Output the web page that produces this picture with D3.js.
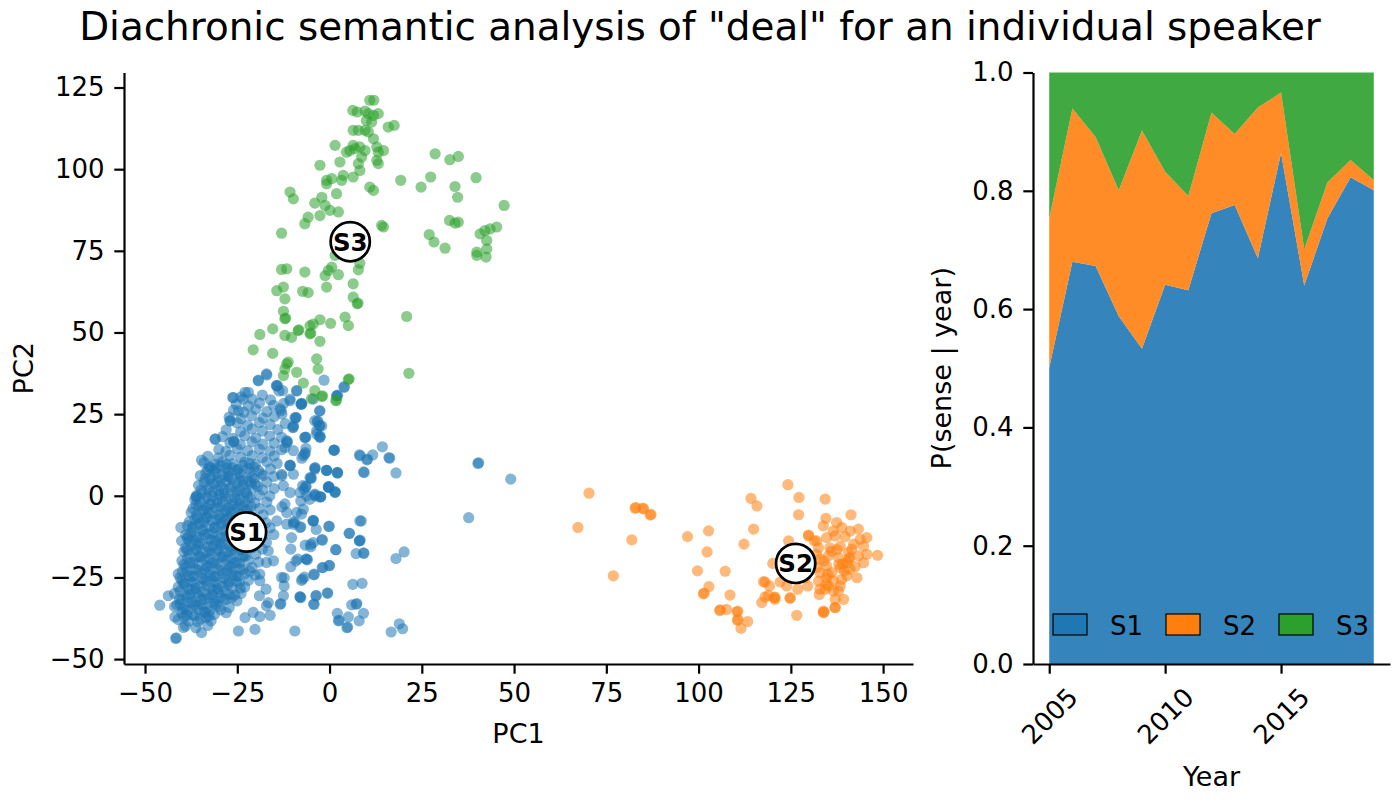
<!DOCTYPE html>
<html><head><meta charset="utf-8">
<script src="https://cdn.jsdelivr.net/npm/d3@7"></script>
<style>
html,body{margin:0;padding:0;background:#fff;}
svg{display:block;font-family:"DejaVu Sans",sans-serif;}
</style></head>
<body>
<svg id="chart" width="1400" height="800"></svg>
<script>
// ---------------- DATA ----------------
const senses = ["S1","S2","S3"];
const senseColors = ["#1f77b4","#ff7f0e","#2ca02c"];
const xTicks = [-50,-25,0,25,50,75,100,125,150];
const yTicks = [-50,-25,0,25,50,75,100,125];
const years = [2005,2006,2007,2008,2009,2010,2011,2012,2013,2014,2015,2016,2017,2018,2019];
const yearTicks = [2005,2010,2015];
const shareTicks = [0,0.2,0.4,0.6,0.8,1.0];
const s1Share = [0.501,0.680,0.673,0.588,0.533,0.641,0.632,0.762,0.776,0.686,0.864,0.640,0.753,0.823,0.801];
const s2Share = [0.252,0.259,0.218,0.213,0.369,0.191,0.159,0.170,0.120,0.255,0.102,0.061,0.061,0.029,0.017];
const s3Share = [0.247,0.061,0.109,0.199,0.098,0.168,0.209,0.068,0.104,0.059,0.034,0.299,0.186,0.148,0.182];
const centroids = [["S1",-22.5,-11.1],["S2",126.3,-20.7],["S3",5.6,77.8]];

const s1Points = [
[40.2,9.9],[40.4,10.1],[49.1,5.1],[37.7,-6.7],[8.1,12.5],[8.3,12.3],[10.1,11.0],[10.3,11.2],[11.7,12.5],[14.3,15.0],[16.1,11.7],[16.3,11.5],[9.2,7.3],[9.4,7.1],[18.0,7.0],[1.2,14.0],[-0.8,7.8],[2.2,7.0],[-0.3,2.5],[-0.1,2.7],[1.5,1.2],[8.6,-7.7],[5.4,-11.5],[8.1,-13.8],[8.3,-13.6],[7.2,-17.7],[9.2,-17.5],[1.7,-16.5],[-0.1,-9.3],[18.0,-19.2],[20.2,-17.2],[6.3,-27.1],[8.8,-26.8],[-0.5,-29.8],[7.2,-33.2],[7.4,-33.0],[6.0,-33.4],[9.2,-36.0],[2.1,-36.0],[5.1,-37.1],[8.0,-38.3],[2.4,-38.3],[2.6,-38.1],[4.7,-40.4],[4.9,-40.2],[18.9,-39.2],[19.8,-40.7],[16.7,-41.7],[-9.4,-41.4],[-4.3,-33.2],[-8.0,-31.0],[-7.8,-31.2],[-3.6,-30.5],[-7.6,-25.9],[-6.8,-24.9],[-4.2,-24.2],[-12.3,-25.1],[-1.8,-22.0],[0.0,-21.3],[-10.5,-21.7],[-9.1,-20.0],[-6.2,-19.4],[-6.0,-19.6],[-2.0,-13.4],[-5.1,-14.9],[-6.6,-15.1],[-4.4,-7.5],[-3.6,-10.3],[-9.8,-8.7],[-8.0,-9.7],[-7.8,-9.5],[-11.6,-5.1],[-12.9,-3.4],[-7.1,-4.1],[-8.9,-5.1],[-4.5,-7.7],[-2.4,-0.3],[-3.9,0.2],[-5.4,-1.1],[-7.8,-1.6],[-6.4,2.7],[-5.0,5.3],[-6.9,2.0],[-4.0,8.1],[-7.5,11.5],[-6.6,13.2],[-2.6,18.0],[-3.5,18.9],[-6.4,18.0],[-2.6,21.4],[-3.3,22.7],[-2.7,26.0],[-7.1,12.3],[-9.1,24.0],[-9.8,21.4],[-11.6,16.3],[-11.4,16.5],[-10.7,9.4],[-12.9,6.1],[-12.9,25.0],[-10.7,29.6],[-7.7,28.0],[-7.5,28.2],[-4.4,29.6],[2.0,30.6],[2.2,30.8],[4.0,33.2],
[-46.0,-33.5],[-43.7,-30.6],[-41.7,-43.7],[-41.5,-43.5],[-41.9,-37.1],[-41.4,-33.4],[-39.6,-40.3],[-40.3,-9.7],[-40.1,-13.8],[-38.3,-12.3],[-36.2,-0.3],[-34.7,10.9],[-31.0,17.4],[-32.4,8.7],[-27.0,23.0],[-26.1,30.1],[-25.9,16.7],[-24.7,26.0],[-23.4,29.6],[-22.9,31.7],[-22.0,31.7],[-19.3,35.2],[-17.1,37.3],[-24.7,-41.4],[-34.7,-41.9],[-20.2,-40.9],[-22.9,-37.3],[-20.7,-35.7],[-18.9,-37.0],[-16.1,-36.6],[-17.1,-33.7],[-16.6,-32.7],[-13.4,-33.2],[-13.2,-33.0],[-19.0,-30.6],[-17.2,-28.6],[-12.5,-30.6],[-18.9,-24.0],[-18.9,-26.0],[-13.0,-25.0],[-12.3,-27.6],[-8.0,-30.9],[-4.2,-33.2],[-3.7,-30.7],[-0.6,-29.8],[-7.3,-25.5],[-4.2,-24.0],[-2.0,-22.0],[-0.1,-21.4],[-10.5,-16.3],[-8.6,-19.4],[-6.4,-19.4],[-5.1,-15.6],[-4.4,-7.7],[-4.4,-14.3],[-2.0,-13.6],[-0.2,-9.4],[1.7,-16.5],[5.3,-11.5],[8.2,-7.7],[8.1,-13.8],[9.3,-17.6],[-9.8,-8.0],[-7.6,-5.6],[-7.3,3.1],[-6.2,0.0],[-4.0,0.5],[-2.4,-0.3],[-0.8,7.7],[1.5,1.0],[-0.3,2.8],[2.1,7.2],[-4.0,8.5],[-5.3,5.6],[-8.0,1.0],[1.3,14.0],[-6.7,12.8],[-6.7,17.9],[-2.6,17.9],[-4.0,23.0],[-2.6,26.0],[-3.5,19.9],[-2.8,21.5],[1.9,30.6],[3.9,33.4],[-1.5,35.4],[-8.9,32.2],[-10.7,29.1],[-7.6,28.3],[-14.4,33.7],[-12.7,32.2],[-13.4,26.6],[-9.4,23.8],[-9.8,21.0],[-11.6,16.9],[-12.1,14.8],[-9.8,13.8],[-10.7,9.2],[-13.0,6.6],[-12.5,3.1],[-10.7,1.0],[-12.1,-2.5],[-14.3,-7.7],[-11.6,-8.7],[-9.4,-8.2],[-10.3,-12.8],[-15.2,-19.9],[-17.1,-20.4],[-16.6,-16.9],
[-17.0,37.0],[-19.3,35.4],[-26.2,30.1],[-14.3,33.6],[-14.1,33.8],[-13.7,32.1],[-8.9,32.1],[-7.7,28.0],[-3.2,22.9],[-2.1,21.4],[1.2,13.9],[-3.9,8.6],[-0.8,7.8],[2.1,7.0],[-0.3,2.7],[-6.4,3.0],[-5.0,5.5],[-2.6,-0.4],[1.5,1.2],[-3.9,-0.1],[-10.7,9.3],[-9.8,6.6],[-10.0,20.9],[-9.1,23.9],[-6.6,17.8],[-6.4,14.5],[-2.6,18.3],[-26.9,22.9],[-31.0,17.3],[-26.0,16.5],[-36.0,-0.4],
[-24,30.3],[-21,29.6],[-18.2,30.8],[-16,29.4],
[-25.3,28],[-22,27.5],[-19,28.4],[-15.2,27.7],[-12.4,28.3],
[-26,26.2],[-23.2,25.6],[-20,26.5],[-17,25.8],[-13.1,26.1],
[-27.2,24.1],[-24,23.6],[-21.1,24.5],[-18,23.8],[-15,24.3],
[-25,22.3],[-22.2,21.6],[-19,22.4],[-16.1,21.8],[-12,22.1],
[-28,20.2],[-24.1,19.6],[-21,20.5],[-18.2,19.8],[-14,20.3],
[-29,18.1],[-26.2,17.6],[-23,18.4],[-20,17.7],[-16.2,18.3],[-13,17.9],
[-27,16.2],[-24.2,15.7],[-21,16.5],[-18.1,15.8],[-15,16.1],
[-30,14.2],[-28.1,13.6],[-25,14.4],[-22.2,13.8],[-19,14.3],[-16.1,13.7],[-13,14.1],
[-33,12.1],[-30.2,11.6],[-27,12.4],[-24.1,11.8],[-21,12.3],[-18.2,11.7],[-15,12.2],
[-34,10.2],[-31.1,9.7],[-29,10.5],[-26.2,9.8],[-23,10.3],[-20.1,9.6],[-17,10.4],[-14.2,9.9],
[-32.5,8.9],[-29.5,9.2],[-26.5,8.7],[-23.5,9.3],[-20.5,8.8],
[-33,8.1],[-31.2,7.6],[-28,8.4],[-25.1,7.8],[-22,8.3],[-19.2,7.7],[-16,8.2],
[-33.5,7.1],[-30.5,6.8],[-27.5,7.3],[-24.5,6.9],[-21.5,7.2],[-18.5,6.7],
[-35,6.2],[-32.1,5.7],[-29,6.4],[-27.2,5.8],[-24,6.3],[-21.1,5.6],[-18,6.2],[-15.1,5.9],
[-32.5,5.1],[-29.5,4.8],[-26.5,5.3],[-23.5,4.7],[-20.5,5.2],
[-34,4.1],[-31.2,3.7],[-28,4.3],[-25.1,3.8],[-22,4.4],[-20.1,3.6],[-17,4.2],
[-35.5,3.2],[-32.5,2.7],[-29.5,3.1],[-26.5,2.8],[-23.5,3.3],[-19.5,2.9],
[-33,2.1],[-30.1,1.6],[-27,2.4],[-24.2,1.7],[-21,2.3],[-18.1,1.8],[-15,2.2],
[-34.5,0.9],[-31.5,1.2],[-28.5,0.7],[-25.5,1.3],[-22.5,0.8],
[-36,0.1],[-33.1,-0.4],[-30,0.3],[-28.2,-0.2],[-25,0.4],[-22.1,-0.3],[-19,0.2],[-16.2,-0.1],
[-36.5,-1.1],[-33.5,-0.8],[-30.5,-1.3],[-27.5,-0.9],[-24.5,-1.2],[-21.5,-0.7],
[-35,-1.9],[-32.2,-2.4],[-29,-1.7],[-26.1,-2.3],[-23,-1.8],[-20.2,-2.2],[-17,-1.9],
[-35.5,-3.1],[-32.5,-2.8],[-29.5,-3.3],[-26.5,-2.9],[-23.5,-3.2],
[-37,-3.9],[-34.1,-4.4],[-31,-3.7],[-28.2,-4.3],[-25,-3.8],[-22.1,-4.2],[-19,-3.9],[-16.1,-4.3],
[-37.5,-5.1],[-34.5,-4.8],[-31.5,-5.3],[-28.5,-4.9],[-25.5,-5.2],[-22.5,-4.7],
[-36,-5.9],[-33.2,-6.4],[-30,-5.8],[-27.1,-6.3],[-24,-5.7],[-21.2,-6.2],[-18,-5.9],
[-36.5,-7.1],[-33.5,-6.8],[-30.5,-7.3],[-27.5,-6.9],[-24.5,-7.2],
[-38,-7.9],[-35.1,-8.4],[-32,-7.7],[-29.2,-8.3],[-26,-7.8],[-23.1,-8.2],[-20,-7.9],[-17.2,-8.3],
[-38.5,-9.1],[-35.5,-8.8],[-32.5,-9.3],[-29.5,-8.9],[-26.5,-9.2],
[-37,-9.9],[-34.2,-10.4],[-31,-9.7],[-28.1,-10.3],[-25,-9.8],[-19,-10.2],[-16.1,-9.8],
[-37.5,-11.1],[-34.5,-10.8],[-31.5,-11.3],[-28.5,-10.9],
[-39,-11.9],[-36.1,-12.4],[-33,-11.7],[-30.2,-12.3],[-27,-11.8],[-18,-12.2],[-15.1,-11.9],
[-38.5,-13.1],[-35.5,-12.8],[-32.5,-13.3],[-29.5,-12.9],[-26.5,-13.2],
[-38,-13.9],[-35.2,-14.4],[-32,-13.7],[-29.1,-14.3],[-26,-13.8],[-23.2,-14.2],[-20,-13.9],[-17.1,-14.3],
[-37.5,-15.1],[-34.5,-14.8],[-31.5,-15.3],[-28.5,-14.9],[-25.5,-15.2],[-22.5,-14.7],
[-39,-15.9],[-36.1,-16.4],[-33,-15.7],[-30.2,-16.3],[-27,-15.8],[-24.1,-16.2],[-21,-15.9],[-18.2,-16.3],
[-39.5,-17.1],[-36.5,-16.8],[-33.5,-17.3],[-30.5,-16.9],[-27.5,-17.2],[-24.5,-16.7],
[-38,-17.9],[-35.2,-18.4],[-32,-17.7],[-29.1,-18.3],[-26,-17.8],[-23.2,-18.2],[-20,-17.9],
[-38.5,-19.1],[-35.5,-18.8],[-32.5,-19.3],[-29.5,-18.9],[-26.5,-19.2],[-23.5,-18.7],
[-40,-19.9],[-37.1,-20.4],[-34,-19.7],[-31.2,-20.3],[-28,-19.8],[-25.1,-20.2],[-22,-19.9],[-19.2,-20.3],
[-39.5,-21.1],[-36.5,-20.8],[-33.5,-21.3],[-30.5,-20.9],[-27.5,-21.2],[-24.5,-20.7],
[-39,-21.9],[-36.2,-22.4],[-33,-21.7],[-30.1,-22.3],[-27,-21.8],[-24.2,-22.2],[-21,-21.9],
[-38.5,-23.1],[-35.5,-22.8],[-32.5,-23.3],[-29.5,-22.9],[-26.5,-23.2],[-23.5,-22.7],
[-41,-23.9],[-38.1,-24.4],[-35,-23.7],[-32.2,-24.3],[-29,-23.8],[-26.1,-24.2],[-23,-23.9],[-20.2,-24.3],
[-40.5,-25.1],[-37.5,-24.8],[-34.5,-25.3],[-31.5,-24.9],[-28.5,-25.2],[-25.5,-24.7],
[-40,-25.9],[-37.2,-26.4],[-34,-25.7],[-31.1,-26.3],[-28,-25.8],[-25.2,-26.2],[-22,-25.9],
[-39.5,-27.1],[-36.5,-26.8],[-33.5,-27.3],[-30.5,-26.9],[-27.5,-27.2],[-24.5,-26.7],
[-41,-27.9],[-38.2,-28.4],[-35,-27.7],[-32.1,-28.3],[-29,-27.8],[-26.2,-28.2],[-23,-27.9],
[-40.5,-29.1],[-37.5,-28.8],[-34.5,-29.3],[-31.5,-28.9],[-28.5,-29.2],
[-42,-29.9],[-39.1,-30.4],[-36,-29.7],[-33.2,-30.3],[-30,-29.8],[-27.1,-30.2],[-24,-29.9],
[-38.5,-31.1],[-35.5,-30.8],[-32.5,-31.3],[-29.5,-30.9],[-26.5,-31.2],
[-40,-31.9],[-37.2,-32.4],[-34,-31.7],[-31.1,-32.3],[-28,-31.8],[-25.1,-32.2],
[-40.5,-33.1],[-37.5,-32.8],[-34.5,-33.3],[-31.5,-32.9],
[-42,-33.9],[-39.1,-34.4],[-36,-33.7],[-33.2,-34.3],[-30,-33.8],[-27.2,-34.2],
[-38.5,-35.1],[-35.5,-34.8],[-32.5,-35.3],[-29.5,-34.9],
[-40,-35.9],[-37.1,-36.4],[-34,-35.7],[-31.2,-36.3],[-28,-35.8],
[-39.5,-37.1],[-36.5,-36.8],[-33.5,-37.3],
[-41,-37.9],[-38.2,-38.4],[-35,-37.7],[-32.1,-38.3],
[-39,-39.9],[-36.2,-40.4],[-33,-39.7],
[-30.8,8.4],[-27.9,9.6],[-24.8,8.1],[-21.7,9.9],[-33.7,5.3],[-30.6,4.4],[-27.6,5.9],[-24.4,4.6],[-21.4,3.9],[-34.8,1.8],[-31.7,-0.1],[-28.6,1.9],[-25.7,-0.6],[-22.8,1.4],[-36.2,-2.7],[-33.4,-3.6],[-30.4,-2.2],[-27.4,-3.7],[-24.3,-2.6],[-21.3,-3.3],[-35.8,-6.7],[-32.8,-5.2],[-29.7,-6.8],[-26.6,-5.1],[-23.7,-6.6],[-37.2,-9.6],[-34.1,-7.9],[-31.2,-9.9],[-28.2,-7.6],[-25.4,-9.5],[-36.9,-13.4],[-33.9,-11.9],[-30.9,-13.8],[-27.9,-12.4],[-38.6,-16.6],[-35.6,-15.4],[-32.6,-16.9],[-29.6,-15.2],[-26.6,-16.6],[-23.6,-15.6],[-37.9,-20.6],[-34.8,-18.7],[-31.8,-20.7],[-28.8,-18.6],[-25.8,-20.6],[-22.7,-18.4],[-39.9,-23.2],[-36.9,-24.6],[-33.9,-22.6],[-30.9,-24.7],[-27.8,-22.9],[-24.7,-24.6],[-21.6,-23.1],[-39.4,-26.6],[-36.4,-28.3],[-33.4,-26.1],[-30.4,-28.4],[-27.3,-26.4],[-24.2,-28.3],[-40.7,-31.6],[-37.7,-30.1],[-34.7,-31.8],[-31.7,-30.2],[-28.7,-31.6],[-25.7,-30.4],[-39.7,-34.7],[-36.7,-33.4],[-33.7,-35.6],[-30.7,-33.2],[-38.7,-36.6],[-35.7,-38.6],[-32.7,-36.9]
];

const s2Points = [
[70.3,0.8],[67.3,-9.7],[81.9,-13.5],[76.9,-24.5],[82.8,-3.8],[83.0,-3.6],[84.9,-3.8],[85.1,-4.0],[86.9,-5.9],[87.1,-5.7],
[97.0,-12.5],[102.7,-10.75],[102.3,-17.2],[99.7,-23.0],[107.2,-23.1],[102.8,-27.8],[101.3,-30.0],[101.5,-29.8],[108.5,-30.4],[105.7,-35.1],[105.9,-34.9],[107.6,-34.8],[110.4,-35.5],[110.6,-35.3],[110.5,-38.1],[110.7,-37.9],[113.3,-38.5],[111.5,-40.6],
[112.3,-14.8],[114.9,-10.2],[114.2,-0.8],[115.8,-3.1],[124.2,3.4],[127.2,-0.5],[134.3,-1.0],[127.1,-5.8],[134.5,-6.9],[141.3,-5.8],[129.8,-12.0],[126.6,-36.6],[133.8,-35.8],[134.0,-35.6],[137.0,-34.2],
[117.6,-26.3],[119.2,-27.6],[120.5,-31.2],[120.7,-31.0],[118.0,-31.0],[117.1,-32.7],[124.8,-31.4],[120.1,-20.7],[124.4,-13.8],
[133.8,-9.2],[137.4,-8.2],[138.8,-9.7],[141.1,-10.8],[143.3,-10.2],[145.6,-12.8],[143.8,-13.3],[139.7,-12.5],[137.0,-12.3],[134.7,-12.8],[132.0,-13.8],[129.8,-12.3],[144.7,-15.4],[142.0,-14.8],[138.4,-15.4],[135.6,-15.9],[132.5,-15.9],[145.6,-17.9],[148.5,-18.2],[143.3,-18.4],[140.6,-19.4],[137.9,-18.9],[135.2,-18.4],[132.9,-19.4],[140.2,-20.5],[144.7,-20.5],[142.4,-21.7],[138.4,-22.0],[134.7,-21.5],[132.0,-22.0],[136.1,-23.5],[140.2,-24.5],[142.9,-25.1],[138.8,-25.6],[134.7,-25.1],[132.5,-26.1],[138.4,-27.6],[135.2,-27.6],[132.9,-28.6],[137.9,-29.1],[137.0,-31.7],[139.3,-31.7],[136.5,-29.1],[134.3,-28.6],[137.0,-34.2],[133.8,-35.3],[132.7,-30.2],[129.6,-27.6],[126.9,-28.6],[128.9,-25.1],[123.9,-27.6],[120.7,-31.7],[118.0,-26.4],[122.1,-26.4],[124.8,-31.2],[118.9,-30.5],[132.0,-17.9],[130.7,-20.5],[132.9,-23.5],[141.5,-16.4],[140.6,-17.4],[139.1,-20.8],[141.1,-22.5],[134.6,-27.1],[131.3,-13.8],[136.5,-10.8],
[136.0,-17.0],[138.0,-21.0],[135.0,-24.0],[139.5,-23.0],[137.5,-16.5],[134.0,-20.0],[141.0,-19.0],[136.5,-26.0]
];

const s3Points = [
[10.9,121.1],[12.0,121.1],[6.3,118.0],[7.5,117.5],[9.6,117.8],[10.5,117.0],[11.9,116.5],[13.2,117.0],[10.0,114.9],[11.4,114.4],[15.9,112.9],[17.5,113.4],[6.4,111.9],[7.8,111.9],[9.6,111.9],[10.5,111.4],[11.9,109.3],[1.5,107.3],[6.4,107.3],[8.2,106.8],[9.6,105.7],[5.5,105.7],[6.9,106.3],[4.6,105.2],[12.8,106.8],[14.6,105.7],[13.2,105.2],[8.7,103.7],[-2.6,101.2],[2.8,102.2],[7.8,101.7],[13.2,101.7],[12.8,102.7],[8.2,99.6],[6.4,97.6],[3.7,98.1],[-0.8,96.6],[0.6,97.1],[3.3,96.6],[-0.8,95.5],[10.9,94.5],[11.9,93.5],[-10.7,93.0],[-9.8,90.9],[1.9,92.5],[-2.1,91.4],[-4.0,89.6],[-1.2,88.9],[0.1,87.4],[2.4,86.9],[-2.6,85.8],[-5.8,85.3],[-6.7,83.3],[-13.0,80.4],[14.1,82.8],[14.6,82.3],
[28.6,104.7],[32.6,102.9],[34.9,103.9],[19.3,96.6],[24.8,94.5],[27.4,97.6],[39.7,97.4],[34.0,94.7],[34.7,91.4],[47.3,88.9],[32.5,84.3],[34.0,83.5],[34.9,83.8],[40.8,80.2],[42.1,81.2],[43.5,81.7],[45.3,82.3],[27.0,80.0],[28.3,77.7],[31.3,75.8],[42.6,78.2],[39.9,74.6],[42.6,75.6],[42.4,73.1],[39.9,73.6],
[1.5,73.6],[8.2,71.2],[7.8,69.2],[-0.3,69.0],[-1.2,67.4],[2.4,67.7],[0.6,70.0],[-13.0,69.3],[-11.6,69.5],[-6.7,68.5],[6.4,64.9],[-0.8,63.9],[-14.3,62.8],[-12.5,63.9],[-7.3,62.6],[-5.8,62.2],[-12.1,60.3],[6.4,60.8],[7.5,58.8],[7.7,59.0],[-12.5,56.5],[-12.1,54.2],[-11.9,54.4],[4.2,54.7],[5.1,52.1],[0.3,52.8],[-2.6,53.9],[-18.9,49.4],[-15.4,51.1],[-12.1,49.1],[-10.3,48.5],[-8.5,50.6],[-8.3,50.8],[-5.3,52.1],[-4.4,52.6],[-5.3,49.6],[-5.1,49.8],[-2.6,47.3],[-20.7,44.7],[-15.4,43.6],[-3.5,41.9],[-3.1,38.8],[-11.6,40.4],[-11.2,40.9],[-12.1,38.8],[-8.9,37.8],[-12.5,36.8],[-7.1,34.5],[20.9,54.9],[21.5,37.5],[5.1,35.6],[5.3,35.8],[-4.0,32.2],[-2.1,30.4],[-1.9,30.6],[-4.9,29.7],[1.7,29.1],[1.9,29.3]
];

// ---------------- CHART ----------------
const svg = d3.select("#chart");
const FONT = "DejaVu Sans";
const tickFont = 26, labelFont = 27, titleFont = 38.9;
const spineW = 2.2, tickLen = 9.7, tickPad = 9.7;

svg.append("text").attr("x", 700).attr("y", 40).attr("text-anchor","middle")
  .attr("font-size", titleFont).attr("fill","#000")
  .text('Diachronic semantic analysis of "deal" for an individual speaker');

function styleAxis(g){
  g.select(".domain").attr("stroke","#000").attr("stroke-width",spineW);
  g.selectAll(".tick line").attr("stroke","#000").attr("stroke-width",spineW);
  g.selectAll(".tick text").attr("font-size",tickFont).attr("font-family",FONT).attr("fill","#000");
}

// Left scatter panel
const L = {left:124, right:913, top:72.5, bottom:664};
const x = d3.scaleLinear().domain([-55.7,158.1]).range([L.left,L.right]);
const y = d3.scaleLinear().domain([-51.5,129.6]).range([L.bottom,L.top]);

const pts = svg.append("g");
[[s1Points,0],[s2Points,1],[s3Points,2]].forEach(([arr,i])=>{
  pts.append("g").selectAll("circle").data(arr).join("circle")
    .attr("cx",d=>x(d[0])).attr("cy",d=>y(d[1])).attr("r",5.6)
    .attr("fill",senseColors[i]).attr("fill-opacity",0.55);
});

const cg = svg.append("g").selectAll("g").data(centroids).join("g")
  .attr("transform",d=>`translate(${x(d[1])},${y(d[2])})`);
cg.append("circle").attr("r",19.6).attr("fill","#fff").attr("stroke","#000").attr("stroke-width",2.7);
cg.append("text").attr("text-anchor","middle").attr("dy","0.36em")
  .attr("font-size",24.5).attr("font-weight","bold").attr("fill","#000").text(d=>d[0]);

svg.append("g").attr("transform",`translate(0,${L.bottom})`)
  .call(d3.axisBottom(x).tickValues(xTicks).tickSize(tickLen).tickPadding(tickPad).tickSizeOuter(0))
  .call(styleAxis);
svg.append("g").attr("transform",`translate(${L.left},0)`)
  .call(d3.axisLeft(y).tickValues(yTicks).tickSize(tickLen).tickPadding(tickPad).tickSizeOuter(0))
  .call(styleAxis);

svg.append("text").attr("x",(L.left+L.right)/2).attr("y",743).attr("text-anchor","middle")
  .attr("font-size",labelFont).text("PC1");
svg.append("text").attr("transform",`translate(33,${(L.top+L.bottom)/2}) rotate(-90)`)
  .attr("text-anchor","middle").attr("font-size",labelFont).text("PC2");

// Right stacked area panel
const R = {left:1033, right:1390, top:72.5, bottom:664};
const xr = d3.scaleLinear().domain([2004.3,2019.7]).range([R.left,R.right]);
const yr = d3.scaleLinear().domain([0,1]).range([R.bottom,R.top]);
const rows = years.map((yy,i)=>({year:yy, S1:s1Share[i], S2:s2Share[i], S3:s3Share[i]}));
const stack = d3.stack().keys(senses)(rows);
const area = d3.area().x(d=>xr(d.data.year)).y0(d=>yr(d[0])).y1(d=>yr(d[1]));
svg.append("g").selectAll("path").data(stack).join("path")
  .attr("d",area).attr("fill",(d,i)=>senseColors[i]).attr("fill-opacity",0.9);

svg.append("g").attr("transform",`translate(0,${R.bottom})`)
  .call(d3.axisBottom(xr).tickValues(yearTicks).tickFormat(d3.format("d")).tickSize(tickLen).tickPadding(tickPad).tickSizeOuter(0))
  .call(styleAxis)
  .call(g=>g.selectAll(".tick text").attr("y",0).attr("dy",null)
      .attr("text-anchor","middle").attr("dominant-baseline","central")
      .attr("transform","translate(0,52) rotate(-45)"));
svg.append("g").attr("transform",`translate(${R.left},0)`)
  .call(d3.axisLeft(yr).tickValues(shareTicks).tickFormat(d3.format(".1f")).tickSize(tickLen).tickPadding(tickPad).tickSizeOuter(0))
  .call(styleAxis);

svg.append("text").attr("x",(R.left+R.right)/2).attr("y",786).attr("text-anchor","middle")
  .attr("font-size",labelFont).text("Year");
svg.append("text").attr("transform",`translate(951,${(R.top+R.bottom)/2}) rotate(-90)`)
  .attr("text-anchor","middle").attr("font-size",labelFont).text("P(sense | year)");

// Legend
const lg = svg.append("g").selectAll("g").data(senses).join("g")
  .attr("transform",(d,i)=>`translate(${1053+i*113},614)`);
lg.append("rect").attr("width",34).attr("height",21).attr("fill",(d,i)=>senseColors[i])
  .attr("stroke","#000").attr("stroke-width",1.2);
lg.append("text").attr("x",57).attr("y",21).attr("font-size",26).attr("fill","#000").text(d=>d);
</script>
</body></html>
